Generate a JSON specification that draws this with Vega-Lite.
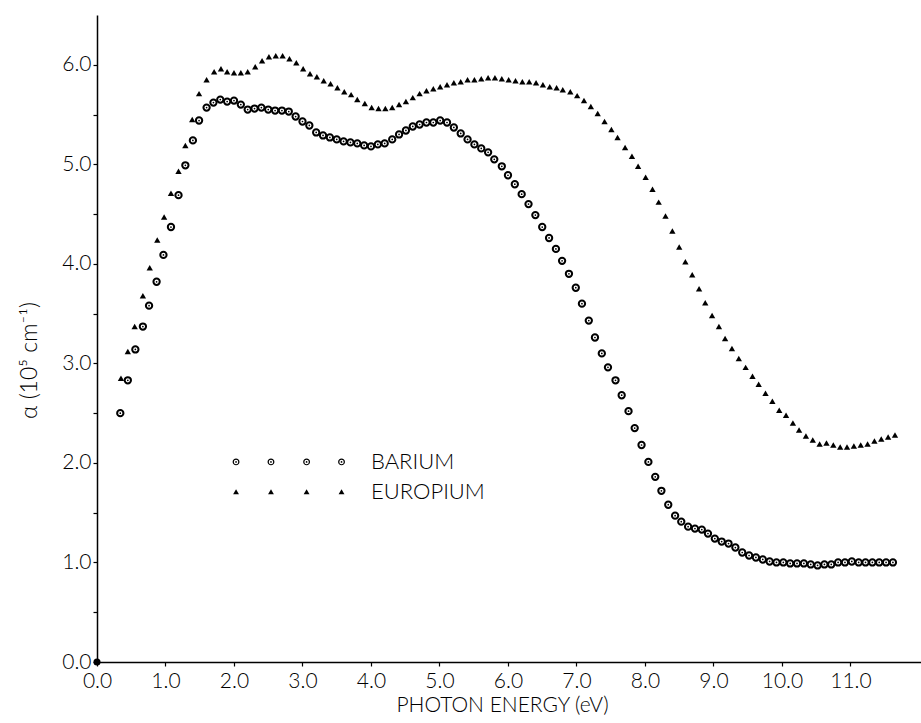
{
  "$schema": "https://vega.github.io/schema/vega-lite/v6.json",
  "width": 824,
  "height": 647,
  "autosize": "none",
  "padding": {"left": 97, "top": 15, "right": 0, "bottom": 61},
  "background": "white",
  "config": {
    "view": {"stroke": null},
    "font": "Lato",
    "axis": {
      "domainColor": "black", "domainWidth": 1.5, "tickColor": "black", "tickWidth": 1.2,
      "labelColor": "#000000", "titleColor": "#000000", "grid": false,
      "labelFont": "Lato", "titleFont": "Lato", "labelFontWeight": 300, "titleFontWeight": 300,
      "labelFontSize": 21, "titleFontSize": 21
    }
  },
  "datasets": {
    "barium": [
      {"E": 0.34, "a": 2.50}, {"E": 0.45, "a": 2.83}, {"E": 0.56, "a": 3.14}, {"E": 0.67, "a": 3.37},
      {"E": 0.76, "a": 3.58}, {"E": 0.87, "a": 3.82}, {"E": 0.97, "a": 4.09}, {"E": 1.08, "a": 4.37},
      {"E": 1.19, "a": 4.69}, {"E": 1.29, "a": 4.99}, {"E": 1.40, "a": 5.24}, {"E": 1.49, "a": 5.44},
      {"E": 1.60, "a": 5.57}, {"E": 1.70, "a": 5.62}, {"E": 1.80, "a": 5.65}, {"E": 1.90, "a": 5.63},
      {"E": 2.00, "a": 5.64}, {"E": 2.10, "a": 5.60}, {"E": 2.20, "a": 5.55}, {"E": 2.30, "a": 5.56},
      {"E": 2.40, "a": 5.57}, {"E": 2.50, "a": 5.55}, {"E": 2.60, "a": 5.54}, {"E": 2.70, "a": 5.54},
      {"E": 2.80, "a": 5.53}, {"E": 2.90, "a": 5.48}, {"E": 3.00, "a": 5.43}, {"E": 3.10, "a": 5.39},
      {"E": 3.20, "a": 5.32}, {"E": 3.30, "a": 5.29}, {"E": 3.40, "a": 5.27}, {"E": 3.50, "a": 5.25},
      {"E": 3.60, "a": 5.23}, {"E": 3.70, "a": 5.22}, {"E": 3.80, "a": 5.21}, {"E": 3.90, "a": 5.19},
      {"E": 4.00, "a": 5.18}, {"E": 4.10, "a": 5.20}, {"E": 4.20, "a": 5.21}, {"E": 4.31, "a": 5.25},
      {"E": 4.41, "a": 5.30}, {"E": 4.51, "a": 5.34}, {"E": 4.61, "a": 5.38}, {"E": 4.71, "a": 5.40},
      {"E": 4.81, "a": 5.42}, {"E": 4.91, "a": 5.42}, {"E": 5.01, "a": 5.44}, {"E": 5.11, "a": 5.42},
      {"E": 5.21, "a": 5.37}, {"E": 5.31, "a": 5.31}, {"E": 5.41, "a": 5.25}, {"E": 5.51, "a": 5.20},
      {"E": 5.61, "a": 5.16}, {"E": 5.71, "a": 5.12}, {"E": 5.80, "a": 5.05}, {"E": 5.91, "a": 4.98},
      {"E": 6.00, "a": 4.89}, {"E": 6.10, "a": 4.80}, {"E": 6.20, "a": 4.70}, {"E": 6.30, "a": 4.60},
      {"E": 6.40, "a": 4.49}, {"E": 6.50, "a": 4.37}, {"E": 6.60, "a": 4.26}, {"E": 6.70, "a": 4.15},
      {"E": 6.79, "a": 4.03}, {"E": 6.89, "a": 3.90}, {"E": 6.99, "a": 3.76}, {"E": 7.08, "a": 3.60},
      {"E": 7.18, "a": 3.43}, {"E": 7.27, "a": 3.26}, {"E": 7.37, "a": 3.10}, {"E": 7.46, "a": 2.96},
      {"E": 7.57, "a": 2.83}, {"E": 7.66, "a": 2.68}, {"E": 7.76, "a": 2.52}, {"E": 7.85, "a": 2.35},
      {"E": 7.95, "a": 2.18}, {"E": 8.05, "a": 2.01}, {"E": 8.15, "a": 1.86}, {"E": 8.24, "a": 1.72},
      {"E": 8.34, "a": 1.58}, {"E": 8.44, "a": 1.47}, {"E": 8.53, "a": 1.41}, {"E": 8.63, "a": 1.36},
      {"E": 8.73, "a": 1.34}, {"E": 8.83, "a": 1.33}, {"E": 8.92, "a": 1.29}, {"E": 9.02, "a": 1.24},
      {"E": 9.12, "a": 1.21}, {"E": 9.22, "a": 1.19}, {"E": 9.32, "a": 1.15}, {"E": 9.42, "a": 1.10},
      {"E": 9.52, "a": 1.07}, {"E": 9.62, "a": 1.05}, {"E": 9.72, "a": 1.03}, {"E": 9.82, "a": 1.01},
      {"E": 9.92, "a": 1.00}, {"E": 10.02, "a": 1.00}, {"E": 10.12, "a": 0.99}, {"E": 10.22, "a": 0.99},
      {"E": 10.32, "a": 0.99}, {"E": 10.42, "a": 0.98}, {"E": 10.52, "a": 0.97}, {"E": 10.62, "a": 0.98},
      {"E": 10.72, "a": 0.98}, {"E": 10.82, "a": 1.00}, {"E": 10.92, "a": 1.00}, {"E": 11.02, "a": 1.01},
      {"E": 11.12, "a": 1.00}, {"E": 11.22, "a": 1.00}, {"E": 11.32, "a": 1.00}, {"E": 11.42, "a": 1.00},
      {"E": 11.52, "a": 1.00}, {"E": 11.62, "a": 1.00}
    ],
    "europium": [
      {"E": 0.35, "a": 2.85}, {"E": 0.45, "a": 3.12}, {"E": 0.55, "a": 3.37}, {"E": 0.67, "a": 3.68},
      {"E": 0.77, "a": 3.96}, {"E": 0.88, "a": 4.24}, {"E": 0.98, "a": 4.47}, {"E": 1.08, "a": 4.71},
      {"E": 1.19, "a": 4.93}, {"E": 1.29, "a": 5.19}, {"E": 1.39, "a": 5.45}, {"E": 1.49, "a": 5.71},
      {"E": 1.60, "a": 5.85}, {"E": 1.71, "a": 5.93}, {"E": 1.81, "a": 5.96}, {"E": 1.90, "a": 5.93},
      {"E": 2.00, "a": 5.92}, {"E": 2.10, "a": 5.92}, {"E": 2.20, "a": 5.93}, {"E": 2.31, "a": 5.98},
      {"E": 2.41, "a": 6.04}, {"E": 2.51, "a": 6.08}, {"E": 2.61, "a": 6.09}, {"E": 2.71, "a": 6.09},
      {"E": 2.81, "a": 6.06}, {"E": 2.91, "a": 6.02}, {"E": 3.01, "a": 5.96}, {"E": 3.11, "a": 5.91},
      {"E": 3.21, "a": 5.88}, {"E": 3.31, "a": 5.84}, {"E": 3.41, "a": 5.81}, {"E": 3.51, "a": 5.77},
      {"E": 3.61, "a": 5.73}, {"E": 3.71, "a": 5.70}, {"E": 3.80, "a": 5.65}, {"E": 3.91, "a": 5.61},
      {"E": 4.01, "a": 5.57}, {"E": 4.11, "a": 5.56}, {"E": 4.21, "a": 5.56}, {"E": 4.31, "a": 5.57},
      {"E": 4.41, "a": 5.60}, {"E": 4.51, "a": 5.63}, {"E": 4.61, "a": 5.67}, {"E": 4.71, "a": 5.71},
      {"E": 4.81, "a": 5.74}, {"E": 4.91, "a": 5.76}, {"E": 5.01, "a": 5.78}, {"E": 5.11, "a": 5.80},
      {"E": 5.21, "a": 5.82}, {"E": 5.31, "a": 5.83}, {"E": 5.41, "a": 5.85}, {"E": 5.51, "a": 5.85},
      {"E": 5.61, "a": 5.86}, {"E": 5.71, "a": 5.87}, {"E": 5.81, "a": 5.87}, {"E": 5.91, "a": 5.86},
      {"E": 6.01, "a": 5.85}, {"E": 6.11, "a": 5.84}, {"E": 6.21, "a": 5.83}, {"E": 6.31, "a": 5.83},
      {"E": 6.41, "a": 5.82}, {"E": 6.51, "a": 5.80}, {"E": 6.61, "a": 5.78}, {"E": 6.71, "a": 5.77},
      {"E": 6.80, "a": 5.75}, {"E": 6.91, "a": 5.73}, {"E": 7.01, "a": 5.69}, {"E": 7.11, "a": 5.64},
      {"E": 7.21, "a": 5.58}, {"E": 7.31, "a": 5.51}, {"E": 7.41, "a": 5.43}, {"E": 7.51, "a": 5.35},
      {"E": 7.60, "a": 5.27}, {"E": 7.71, "a": 5.17}, {"E": 7.81, "a": 5.08}, {"E": 7.90, "a": 4.98},
      {"E": 8.01, "a": 4.87}, {"E": 8.11, "a": 4.75}, {"E": 8.20, "a": 4.62}, {"E": 8.30, "a": 4.48},
      {"E": 8.40, "a": 4.33}, {"E": 8.50, "a": 4.17}, {"E": 8.59, "a": 4.02}, {"E": 8.69, "a": 3.89},
      {"E": 8.79, "a": 3.75}, {"E": 8.88, "a": 3.61}, {"E": 8.98, "a": 3.48}, {"E": 9.08, "a": 3.37},
      {"E": 9.17, "a": 3.25}, {"E": 9.27, "a": 3.15}, {"E": 9.37, "a": 3.05}, {"E": 9.47, "a": 2.96},
      {"E": 9.57, "a": 2.87}, {"E": 9.66, "a": 2.79}, {"E": 9.76, "a": 2.70}, {"E": 9.86, "a": 2.62},
      {"E": 9.96, "a": 2.53}, {"E": 10.06, "a": 2.48}, {"E": 10.16, "a": 2.40}, {"E": 10.25, "a": 2.33},
      {"E": 10.35, "a": 2.27}, {"E": 10.45, "a": 2.23}, {"E": 10.55, "a": 2.19}, {"E": 10.65, "a": 2.20},
      {"E": 10.75, "a": 2.18}, {"E": 10.85, "a": 2.16}, {"E": 10.95, "a": 2.16}, {"E": 11.05, "a": 2.17},
      {"E": 11.15, "a": 2.18}, {"E": 11.25, "a": 2.19}, {"E": 11.35, "a": 2.22}, {"E": 11.45, "a": 2.24},
      {"E": 11.55, "a": 2.26}, {"E": 11.65, "a": 2.28}
    ],
    "legendBa": [{"E": 2.03, "a": 2.01}, {"E": 2.54, "a": 2.01}, {"E": 3.06, "a": 2.01}, {"E": 3.57, "a": 2.01}],
    "legendEu": [{"E": 2.03, "a": 1.71}, {"E": 2.54, "a": 1.71}, {"E": 3.06, "a": 1.71}, {"E": 3.57, "a": 1.71}],
    "legendText": [{"E": 4.0, "a": 2.01, "label": "BARIUM"}, {"E": 4.0, "a": 1.71, "label": "EUROPIUM"}],
    "origin": [{"E": 0, "a": 0}]
  },
  "encoding": {
    "x": {
      "field": "E", "type": "quantitative",
      "scale": {"domain": [0, 12.03], "nice": false, "zero": false},
      "axis": {
        "title": "PHOTON ENERGY (eV)", "titleColor": "#000000", "labelColor": "#000000",
        "values": [0,1,2,3,4,5,6,7,8,9,10,11],
        "format": ".1f", "tickSize": 4, "labelPadding": 4, "titlePadding": 3,
        "titleX": 405, "labelFlush": false
      }
    },
    "y": {
      "field": "a", "type": "quantitative",
      "scale": {"domain": [0, 6.5], "nice": false, "zero": true},
      "axis": {
        "title": "α (10⁵ cm⁻¹)", "titleFontSize": 23, "titleColor": "#000000", "labelColor": "#000000",
        "values": [0,0.5,1,1.5,2,2.5,3,3.5,4,4.5,5,5.5,6],
        "labelExpr": "datum.value % 1 == 0 ? format(datum.value, '.1f') : ''",
        "tickSize": 4, "labelPadding": 2, "titlePadding": 20, "titleY": 345, "labelFlush": false
      }
    }
  },
  "layer": [
    {"mark": {"type": "rule", "color": "black", "strokeWidth": 1.5}, "encoding": {"y": {"datum": 6.5}, "x": null}},
    {"data": {"name": "barium"}, "mark": {"type": "point", "shape": "circle", "filled": false, "stroke": "black", "strokeWidth": 2, "size": 40, "opacity": 1}},
    {"data": {"name": "barium"}, "mark": {"type": "point", "shape": "circle", "filled": true, "color": "black", "size": 3, "opacity": 1}},
    {"data": {"name": "europium"}, "mark": {"type": "point", "shape": "triangle-up", "filled": true, "color": "black", "size": 40, "opacity": 1}},
    {"data": {"name": "legendBa"}, "mark": {"type": "point", "shape": "circle", "filled": false, "stroke": "black", "strokeWidth": 1.2, "size": 32, "opacity": 1}},
    {"data": {"name": "legendBa"}, "mark": {"type": "point", "shape": "circle", "filled": true, "color": "black", "size": 3, "opacity": 1}},
    {"data": {"name": "legendEu"}, "mark": {"type": "point", "shape": "triangle-up", "filled": true, "color": "black", "size": 34, "opacity": 1}},
    {"data": {"name": "legendText"}, "mark": {"type": "text", "align": "left", "baseline": "middle", "fontSize": 22, "font": "Lato", "fontWeight": 300, "color": "black"}, "encoding": {"text": {"field": "label"}}},
    {"data": {"name": "origin"}, "mark": {"type": "point", "shape": "circle", "filled": true, "color": "black", "size": 50, "opacity": 1}}
  ]
}
